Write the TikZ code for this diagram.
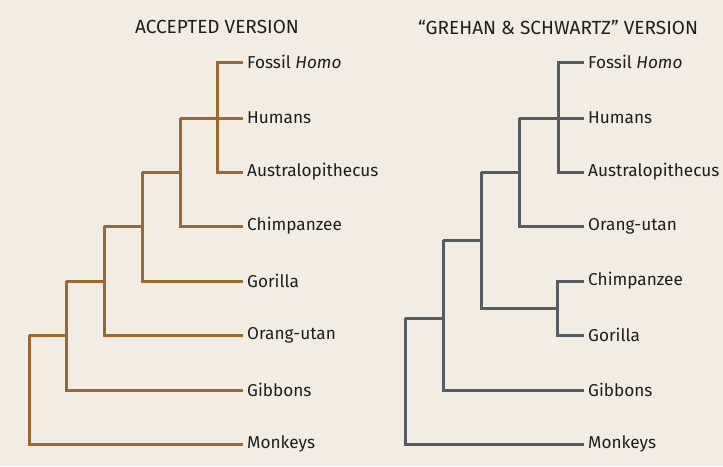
\documentclass[tikz,border=0pt]{standalone}
\usepackage{fontspec}
\setmainfont{Fira Sans}
\definecolor{bg}{HTML}{F2ECE2}
\definecolor{brownl}{HTML}{9A6830}
\definecolor{goldl}{HTML}{DCAB3C}
\definecolor{grayl}{HTML}{565C64}
\definecolor{grayd}{HTML}{8E9296}
\definecolor{txt}{HTML}{1E1E1E}
\begin{document}
\begin{tikzpicture}[x=1pt,y=-1pt,
  lbl/.style={anchor=west,inner sep=0pt,text=txt,font=\fontsize{17.2}{20}\selectfont},
  ttl/.style={inner sep=0pt,text=txt,font=\fontsize{19}{22}\selectfont},
  acc/.style={line width=3pt,draw=brownl,line join=miter},
  accs/.style={line width=3pt,draw=goldl,line join=miter,shift={(1.1,1.2)}},
  gs/.style={line width=3pt,draw=grayl,line join=miter},
  gss/.style={line width=3pt,draw=grayd,line join=miter,shift={(1.0,1.1)}}]
\fill[bg] (0,0) rectangle (723,466);
\useasboundingbox (0,0) rectangle (723,466);

% ---------- left tree ----------
\node[ttl] (tl) at (217,27) {ACCEPTED VERSION};
\node[lbl] (l1) at (247,62) {Fossil \textit{Homo}};
\node[lbl] (l2) at (247,118) {Humans};
\node[lbl] (l3) at (247,172) {Australopithecus};
\node[lbl] (l4) at (247,226) {Chimpanzee};
\node[lbl] (l5) at (247,281) {Gorilla};
\node[lbl] (l6) at (247,335) {Orang-utan};
\node[lbl] (l7) at (247,390) {Gibbons};
\node[lbl] (l8) at (247,444) {Monkeys};
\coordinate (a1) at (217,118);
\coordinate (a2) at (180,172);
\coordinate (a3) at (142,226);
\coordinate (a4) at (104,281);
\coordinate (a5) at (66,335);
\coordinate (a6) at (29,390);
\foreach \s in {accs,acc}{
  \draw[\s] ([xshift=-4pt]l1.west) -| (a1) |- ([xshift=-4pt]l3.west);
  \draw[\s] ([xshift=-4pt]l2.west) -- (a1 -| a2);
  \draw[\s] (a1 -| a2) |- ([xshift=-4pt]l4.west);
  \draw[\s] (a2 -| a3) -- (a2);
  \draw[\s] (a2 -| a3) |- ([xshift=-4pt]l5.west);
  \draw[\s] (a3 -| a4) -- (a3);
  \draw[\s] (a3 -| a4) |- ([xshift=-4pt]l6.west);
  \draw[\s] (a4 -| a5) -- (a4);
  \draw[\s] (a4 -| a5) |- ([xshift=-4pt]l7.west);
  \draw[\s] (a5 -| a6) -- (a5);
  \draw[\s] (a5 -| a6) |- ([xshift=-4pt]l8.west);
}

% ---------- right tree ----------
\node[ttl] (tr) at (558,27) {``GREHAN \& SCHWARTZ'' VERSION};
\node[lbl] (r1) at (588,62) {Fossil \textit{Homo}};
\node[lbl] (r2) at (588,118) {Humans};
\node[lbl] (r3) at (588,172) {Australopithecus};
\node[lbl] (r4) at (588,226) {Orang-utan};
\node[lbl] (r5) at (588,281) {Chimpanzee};
\node[lbl] (r6) at (588,335) {Gorilla};
\node[lbl] (r7) at (588,390) {Gibbons};
\node[lbl] (r8) at (588,444) {Monkeys};
\coordinate (b1) at (558,118);
\coordinate (b2) at (519,172);
\coordinate (b3) at (557,308);
\coordinate (b4) at (481,240);
\coordinate (b5) at (443,318);
\coordinate (b6) at (405,390);
\foreach \s in {gss,gs}{
  \draw[\s] ([xshift=-4pt]r1.west) -| (b1) |- ([xshift=-4pt]r3.west);
  \draw[\s] ([xshift=-4pt]r2.west) -- (b1 -| b2);
  \draw[\s] (b1 -| b2) |- ([xshift=-4pt]r4.west);
  \draw[\s] ([xshift=-4pt]r5.west) -| (b3) |- ([xshift=-4pt]r6.west);
  \draw[\s] (b2 -| b4) -- (b2);
  \draw[\s] (b2 -| b4) |- (b3);
  \draw[\s] (b4 -| b5) -- (b4);
  \draw[\s] (b4 -| b5) |- ([xshift=-4pt]r7.west);
  \draw[\s] (b5 -| b6) -- (b5);
  \draw[\s] (b5 -| b6) |- ([xshift=-4pt]r8.west);
}
\end{tikzpicture}
\end{document}
